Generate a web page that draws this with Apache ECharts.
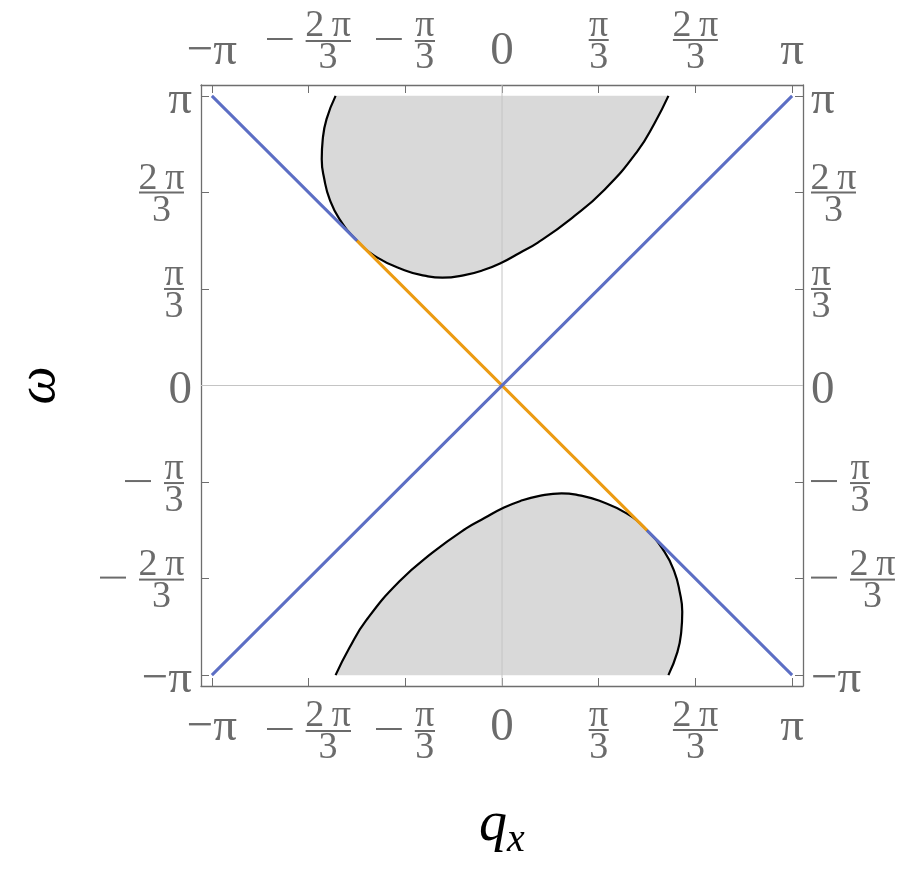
<!DOCTYPE html>
<html>
<head>
<meta charset="utf-8">
<script src="https://cdn.jsdelivr.net/npm/echarts@6/dist/echarts.min.js"></script>
<style>
  html, body { margin: 0; background: #fff; }
  #chart { width: 908px; height: 870px; }
</style>
</head>
<body>
<div id="chart"></div>
<script>
const PI = Math.PI;

// ticks at multiples of pi/3, same on all four sides
const tickValues = [-PI, -2 * PI / 3, -PI / 3, 0, PI / 3, 2 * PI / 3, PI];
const tickLabels = ['−π', '−2\u2009π/3', '−π/3', '0', 'π/3', '2\u2009π/3', 'π'];

// boundary of the shaded region at the top (q, omega), closed by omega = pi
const upperEdge = [
  [-1.802, 3.1416], [-1.900, 2.889], [-1.941, 2.672], [-1.952, 2.455], [-1.924, 2.238],
  [-1.867, 2.021], [-1.760, 1.804], [-1.571, 1.571], [-1.349, 1.387], [-1.056, 1.251],
  [-0.840, 1.192], [-0.645, 1.169], [-0.406, 1.197], [-0.200, 1.252], [0, 1.334],
  [0.190, 1.438], [0.388, 1.550], [0.750, 1.811], [1.110, 2.124], [1.471, 2.548],
  [1.652, 2.845], [1.802, 3.1416]
];
// boundary of the shaded region at the bottom, closed by omega = -pi
const lowerEdge = [
  [-1.802, -3.1416], [-1.652, -2.845], [-1.471, -2.548], [-1.110, -2.124], [-0.750, -1.811],
  [-0.388, -1.550], [-0.190, -1.438], [0, -1.334], [0.200, -1.252], [0.406, -1.197],
  [0.645, -1.169], [0.840, -1.192], [1.056, -1.251], [1.349, -1.387], [1.571, -1.571],
  [1.760, -1.804], [1.867, -2.021], [1.924, -2.238], [1.952, -2.455], [1.941, -2.672],
  [1.900, -2.889], [1.802, -3.1416]
];

// omega = q
const risingLine = [[-3.1416, -3.1416], [3.1416, 3.1416]];
// omega = -q, split where it touches the two regions
const fallingBlueTop = [[-3.1416, 3.1416], [-1.571, 1.571]];
const fallingOrange = [[-1.571, 1.571], [1.571, -1.571]];
const fallingBlueBottom = [[1.571, -1.571], [3.1416, -3.1416]];

const axisMin = -1.0375 * PI;
const axisMax = 1.0375 * PI;
const zeroLineV = [[0, axisMin], [0, axisMax]];
const zeroLineH = [[axisMin, 0], [axisMax, 0]];

const frameColor = '#6e6e6e';
const labelColor = '#6b6b6b';
const serif = "'Liberation Serif', 'DejaVu Serif', serif";

// minus sign + fraction bar drawn as one strip so they share the same line
function ruleStrip(minusW, gapW, barW) {
  const c = document.createElement('canvas');
  c.width = minusW + gapW + barW;
  c.height = 6;
  const g = c.getContext('2d');
  g.fillStyle = labelColor;
  g.fillRect(0, 1, minusW, 2);
  g.fillRect(minusW + gapW, 3, barW, 2);
  return c;
}

function richStyles() {
  const txt = { fontFamily: serif, color: labelColor, align: 'center' };
  const blank = { align: 'center', height: 1, lineHeight: 1 };
  const rule = { align: 'center', height: 2, lineHeight: 6, backgroundColor: labelColor };
  const strip = { align: 'center', height: 6, lineHeight: 6 };
  return {
    big: Object.assign({}, txt, { fontSize: 47, lineHeight: 44 }),
    num1: Object.assign({}, txt, { fontSize: 38, lineHeight: 21, width: 20 }),
    num2: Object.assign({}, txt, { fontSize: 38, lineHeight: 21, width: 45 }),
    den1: Object.assign({}, txt, { fontSize: 38, lineHeight: 31, width: 20 }),
    den2: Object.assign({}, txt, { fontSize: 38, lineHeight: 31, width: 45 }),
    bar1: Object.assign({}, rule, { width: 20 }),
    bar2: Object.assign({}, rule, { width: 45 }),
    nbar1: Object.assign({}, strip, { width: 59, backgroundColor: { image: ruleStrip(26, 13, 20) } }),
    nbar2: Object.assign({}, strip, { width: 84, backgroundColor: { image: ruleStrip(26, 13, 45) } }),
    lp: Object.assign({}, blank, { width: 39 }),
    rp: Object.assign({}, blank, { width: 8 })
  };
}

function makeFormatter(padRight) {
  return function (value) {
    const i = tickValues.findIndex(v => Math.abs(v - value) < 1e-6);
    if (i < 0) return '';
    const label = tickLabels[i];
    if (label.indexOf('/') < 0) return '{big|' + label + '}';
    const neg = label[0] === '−';
    const parts = (neg ? label.slice(1) : label).split('/');
    const k = parts[0].length > 1 ? 2 : 1;
    const rp = padRight ? '{rp|}' : '';
    const lp = neg ? '{lp|}' : '';
    return [
      lp + '{num' + k + '|' + parts[0] + '}' + rp,
      '{' + (neg ? 'nbar' : 'bar') + k + '|}' + rp,
      lp + '{den' + k + '|' + parts[1] + '}' + rp
    ].join('\n');
  };
}

function axisFor(side) {
  const vertical = side === 'left' || side === 'right';
  return {
    type: 'value',
    position: side,
    min: axisMin,
    max: axisMax,
    axisLine: { show: true, onZero: false, lineStyle: { color: frameColor, width: 1.3 } },
    axisTick: {
      show: true, inside: true, length: 8, customValues: tickValues,
      lineStyle: { color: frameColor, width: 1 }
    },
    axisLabel: {
      show: true,
      customValues: tickValues,
      formatter: makeFormatter(side === 'left'),
      rich: richStyles(),
      margin: { bottom: 20, top: 11, left: 9, right: 8 }[side],
      padding: vertical ? [10, 0, 0, 0] : 0,
      showMinLabel: true,
      showMaxLabel: true,
      hideOverlap: false
    },
    splitLine: { show: false }
  };
}

function fillSeries(edge) {
  const ring = [edge[0]].concat(edge, [edge[edge.length - 1]]);
  return {
    type: 'custom',
    coordinateSystem: 'cartesian2d',
    silent: true,
    z: 1,
    data: [[0, 0]],
    renderItem: function (params, api) {
      return {
        type: 'polygon',
        shape: { points: ring.map(p => api.coord(p)), smooth: 0.5 },
        style: { fill: '#d9d9d9' }
      };
    }
  };
}

function lineSeries(data, color, width, z, smooth) {
  return {
    type: 'line',
    data: data,
    z: z,
    smooth: smooth || false,
    symbol: 'none',
    silent: true,
    lineStyle: { color: color, width: width },
    emphasis: { disabled: true }
  };
}

const xBottom = axisFor('bottom');
xBottom.name = '{q|q}{x|x}';
xBottom.nameLocation = 'middle';
xBottom.nameGap = 109;
xBottom.nameMoveOverlap = false;
xBottom.nameTextStyle = {
  rich: {
    q: { fontFamily: serif, fontStyle: 'italic', fontSize: 56, color: '#000', lineHeight: 60 },
    x: { fontFamily: serif, fontStyle: 'italic', fontSize: 40, color: '#000', lineHeight: 60, padding: [30, 0, 0, 0] }
  }
};

const yLeft = axisFor('left');
yLeft.name = 'ω';
yLeft.nameLocation = 'middle';
yLeft.nameRotate = 90;
yLeft.nameGap = 134;
yLeft.nameMoveOverlap = false;
yLeft.nameTextStyle = { fontFamily: serif, fontStyle: 'italic', fontSize: 54, color: '#000', lineHeight: 54 };

const option = {
  animation: false,
  backgroundColor: '#fff',
  grid: { left: 201, top: 85, width: 602, height: 601, containLabel: false, outerBoundsMode: 'none' },
  xAxis: [xBottom, axisFor('top')],
  yAxis: [yLeft, axisFor('right')],
  series: [
    fillSeries(upperEdge),
    fillSeries(lowerEdge),
    lineSeries(zeroLineV, '#c4c4c4', 1, 2),
    lineSeries(zeroLineH, '#c4c4c4', 1, 2),
    lineSeries(upperEdge, '#000', 2.2, 3, 0.5),
    lineSeries(lowerEdge, '#000', 2.2, 3, 0.5),
    lineSeries(fallingOrange, '#ec9b12', 3, 4),
    lineSeries(fallingBlueTop, '#5c6ec4', 3, 4),
    lineSeries(fallingBlueBottom, '#5c6ec4', 3, 4),
    lineSeries(risingLine, '#5c6ec4', 3, 5)
  ]
};

const chart = echarts.init(document.getElementById('chart'));
chart.setOption(option);
</script>
</body>
</html>
